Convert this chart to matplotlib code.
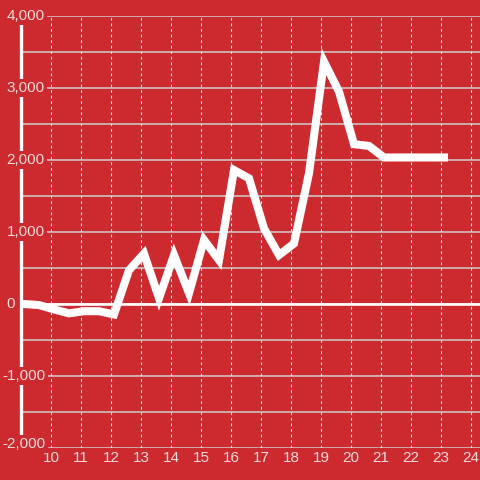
import matplotlib
matplotlib.use("Agg")
import matplotlib.pyplot as plt

# weekly-ish values
xs = [8.6, 9.1, 9.6, 10.1, 10.6, 11.1, 11.6, 12.1, 12.6, 13.1, 13.6, 14.1,
      14.6, 15.1, 15.6, 16.1, 16.6, 17.1, 17.6, 18.1, 18.6, 19.1, 19.6,
      20.1, 20.6, 21.1, 21.6, 22.1, 22.6, 23.1]
vals = [0, 0, -15, -75, -130, -100, -100, -145, 470, 700, 80, 680,
        150, 890, 610, 1860, 1745, 1050, 680, 840, 1815, 3365, 2950,
        2220, 2195, 2035, 2035, 2035, 2035, 2035]

xticks = list(range(10, 25))
yticks = [4000, 3000, 2000, 1000, 0, -1000, -2000]
ylabels = ["4,000", "3,000", "2,000", "1,000", "0", "-1,000", "-2,000"]

red = "#cc2a2f"
txt = "#f6dada"
plt.rcParams["font.family"] = ["Liberation Sans", "DejaVu Sans"]

fig = plt.figure(figsize=(4.8, 4.8), dpi=100, facecolor=red)
ax = fig.add_axes([21 / 480, 32 / 480, 459 / 480, 432 / 480])
ax.set_facecolor(red)
ax.set_xlim(9.0, 9.0 + 459 / 30)
ax.set_ylim(-2000, 4000)

# grid
for v in range(-2000, 4001, 500):
    ax.axhline(v, color="#cfcfcf", lw=1.1, zorder=1)
for x in xticks:
    ax.axvline(x, color="#ececec", lw=0.8, ls=(0, (2.5, 2.5)), zorder=1)
ax.axhline(0, color="white", lw=1.9, zorder=2)

ax.plot(xs, vals, color="white", lw=5.8, solid_joinstyle="miter",
        solid_capstyle="projecting", zorder=3)

for s in ["top", "right", "bottom"]:
    ax.spines[s].set_visible(False)
ax.spines["left"].set_color("white")
ax.spines["left"].set_linewidth(2.4)
ax.spines["left"].set_position(("data", 9.0))

ax.set_yticks([])
ax.set_xticks(xticks)
ax.set_xticklabels([str(x) for x in xticks], fontsize=11, color=txt)
ax.tick_params(axis="x", length=0, pad=2)

# y labels sit over the spine with a red box behind them
for v, lab in zip(yticks, ylabels):
    xpix = 2.5 if lab.startswith("-") else 6.5
    ax.text((xpix - 21) / 459, v, lab, transform=ax.get_yaxis_transform(),
            ha="left", va="baseline" if v == -2000 else "center",
            fontsize=11, color=txt, zorder=5, clip_on=False,
            bbox=dict(facecolor=red, edgecolor="none", pad=1.5))

fig.savefig("out.png", dpi=100, facecolor=red)
